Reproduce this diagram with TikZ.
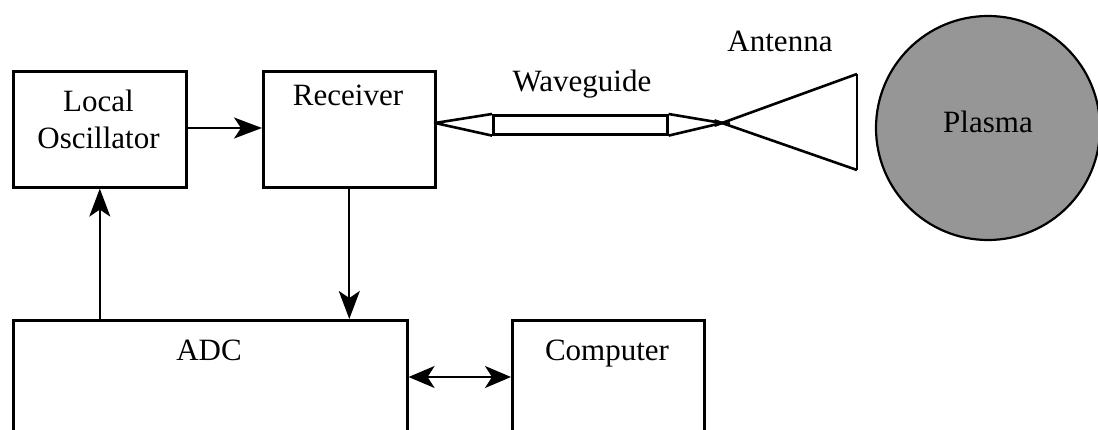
\documentclass[tikz,border=0pt]{standalone}
\usepackage{fontspec}
\setmainfont{Liberation Serif}
\usetikzlibrary{arrows.meta}
\begin{document}
\begin{tikzpicture}[x=1pt,y=-1pt,
  boxst/.style={draw,line width=2.6pt,rectangle,inner sep=0pt,anchor=north west},
  lbl/.style={font=\fontsize{31}{37}\selectfont,inner sep=0pt},
  conn/.style={line width=1.8pt,-{Stealth[length=28pt,width=21pt,inset=7pt]}},
  dconn/.style={line width=1.8pt,{Stealth[length=26pt,width=22pt,inset=7pt]}-{Stealth[length=26pt,width=22pt,inset=7pt]}},
  outl/.style={line width=2.6pt,line join=round}]
\clip (0,0) rectangle (1098,430);
\fill[white] (0,0) rectangle (1098,430);
% boxes
\node[boxst,minimum width=173pt,minimum height=116pt] (lo) at (12,70) {};
\node[boxst,minimum width=172pt,minimum height=116pt] (rec) at (262,70) {};
\node[boxst,minimum width=394pt,minimum height=130pt] (adc) at (12,319) {};
\node[boxst,minimum width=192pt,minimum height=130pt] (comp) at (511,319) {};
% labels
\node[lbl,anchor=base] (lot1) at (98.5,112) {Local};
\node[lbl,anchor=base] (lot2) at (98.5,149) {Oscillator};
\node[lbl,anchor=base] (rect) at (348,106) {Receiver};
\node[lbl,anchor=base] (adct) at (209,360) {ADC};
\node[lbl,anchor=base] (compt) at (607,360) {Computer};
\node[lbl,anchor=base] (wgt) at (582,92) {Waveguide};
\node[lbl,anchor=base] (antt) at (780,52) {Antenna};
% plasma
\node[circle,draw,line width=2.2pt,fill={rgb,255:red,150;green,150;blue,150},minimum size=224pt,inner sep=0pt] (pl) at (988,128) {};
\node[lbl] (plt) at (988,122) {Plasma};
% waveguide
\coordinate (wgl) at (435,123);
\coordinate (wgr) at (722,123);
\node[draw,line width=2.6pt,rectangle,inner sep=0pt,minimum width=174pt,minimum height=19pt,anchor=north west] (wg) at (492,114) {};
\draw[outl] (wg.north west) -- (wgl) -- (wg.south west);
\draw[outl,shorten >=-8pt] (wg.north east) -- (wgr);
\draw[outl,shorten >=-8pt] (wg.south east) -- (wgr);
% antenna
\coordinate (ant1) at (857,74);
\coordinate (ant2) at (857,170);
\draw[outl,shorten >=-8pt] (ant1) -- (wgr);
\draw[outl,shorten >=-8pt] (ant2) -- (wgr);
\draw[outl,line join=miter] (ant1) -- (ant2);
% connectors
\draw[conn] (lo.east |- 0,128) -- (rec.west |- 0,128);
\draw[conn] (rec.south) -- (rec.south |- adc.north);
\draw[conn] (adc.north -| lo.south) -- (lo.south);
\draw[dconn] (adc.east |- 0,377) -- (comp.west |- 0,377);
\end{tikzpicture}
\end{document}
